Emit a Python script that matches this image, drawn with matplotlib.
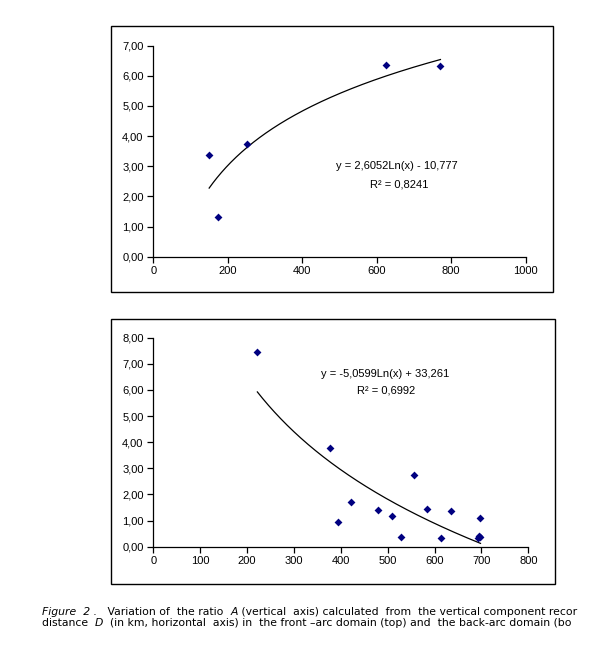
import numpy as np
import matplotlib
matplotlib.use("Agg")
import matplotlib.pyplot as plt
from matplotlib.patches import Rectangle
from matplotlib.ticker import FuncFormatter

# ---- data ----
top_x = [150, 173, 251, 626, 771]
top_y = [3.36, 1.32, 3.74, 6.36, 6.32]
top_a, top_b = 2.6052, -10.777
top_eq = "y = 2,6052Ln(x) - 10,777"
top_r2 = "R² = 0,8241"
top_xticks = [0, 200, 400, 600, 800, 1000]
top_yticks = [0, 1, 2, 3, 4, 5, 6, 7]

bot_x = [222, 378, 393, 422, 479, 510, 528, 556, 583, 614, 635, 692, 695, 698, 697]
bot_y = [7.44, 3.78, 0.95, 1.70, 1.40, 1.17, 0.37, 2.76, 1.45, 0.34, 1.35, 0.33, 0.40, 0.38, 1.10]
bot_a, bot_b = -5.0599, 33.261
bot_eq = "y = -5,0599Ln(x) + 33,261"
bot_r2 = "R² = 0,6992"
bot_xticks = [0, 100, 200, 300, 400, 500, 600, 700, 800]
bot_yticks = [0, 1, 2, 3, 4, 5, 6, 7, 8]

W, H = 609, 655
plt.rcParams['font.family'] = ['Liberation Sans', 'DejaVu Sans']
fig = plt.figure(figsize=(W / 100, H / 100), dpi=100)
fig.patch.set_facecolor('white')

def px_rect(l, t, r, b):
    return [l / W, 1 - b / H, (r - l) / W, (b - t) / H]

def frame(l, t, r, b):
    x, y, w, h = px_rect(l, t, r, b)
    fig.patches.append(Rectangle((x, y), w, h, transform=fig.transFigure,
                                 fill=False, edgecolor='black', linewidth=1.0))

comma = FuncFormatter(lambda v, p: f"{v:.2f}".replace('.', ','))

def panel(rect, xs, ys, a, b, eq, r2, xt, yt, eqpos):
    ax = fig.add_axes(rect)
    ax.scatter(xs, ys, marker='D', s=16, color='#000080', zorder=3, linewidths=0)
    xx = np.linspace(min(xs), max(xs), 300)
    ax.plot(xx, a * np.log(xx) + b, color='black', linewidth=0.9)
    ax.set_xlim(xt[0], xt[-1])
    ax.set_ylim(yt[0], yt[-1])
    ax.set_xticks(xt)
    ax.set_yticks(yt)
    ax.yaxis.set_major_formatter(comma)
    for s in ['top', 'right']:
        ax.spines[s].set_visible(False)
    for s in ['left', 'bottom']:
        ax.spines[s].set_linewidth(0.9)
    ax.tick_params(direction='out', length=4, width=0.9, labelsize=8, pad=3,
                   colors='black')
    ax.patch.set_alpha(0)
    ax.text(eqpos[0], eqpos[1], eq, ha='center', va='center', fontsize=8)
    ax.text(eqpos[2], eqpos[3], r2, ha='center', va='center', fontsize=8)
    return ax

frame(110.7, 26, 553, 292)
panel(px_rect(153.3, 45.7, 525.7, 256.7), top_x, top_y, top_a, top_b,
      top_eq, top_r2, top_xticks, top_yticks, (654, 3.02, 660, 2.38))

frame(110.7, 319, 555, 584)
panel(px_rect(153.3, 337.7, 528.3, 546.7), bot_x, bot_y, bot_a, bot_b,
      bot_eq, bot_r2, bot_xticks, bot_yticks, (494, 6.61, 496, 5.97))

# ---- caption (as visible in the reference, cut at the page edge) ----
line1 = [("Figure  2 .", 'italic'), ("   Variation of  the ratio  ", 'normal'),
         ("A", 'italic'),
         (" (vertical  axis) calculated  from  the vertical component recor", 'normal')]
line2 = [("distance  ", 'normal'), ("D", 'italic'),
         ("  (in km, horizontal  axis) in  the front \u2013arc domain (top) and  the back-arc domain (bo", 'normal')]

renderer = fig.canvas.get_renderer()

def caption(parts, x0, ypx, size):
    x = x0
    for txt, style in parts:
        t = fig.text(x / W, 1 - ypx / H, txt, fontsize=size, style=style,
                     ha='left', va='baseline', family=['DejaVu Sans'])
        bb = t.get_window_extent(renderer=renderer)
        x += bb.width

caption(line1, 42, 615, 7.85)
caption(line2, 42, 626.5, 7.85)

fig.savefig("out.png", dpi=100, facecolor='white')
